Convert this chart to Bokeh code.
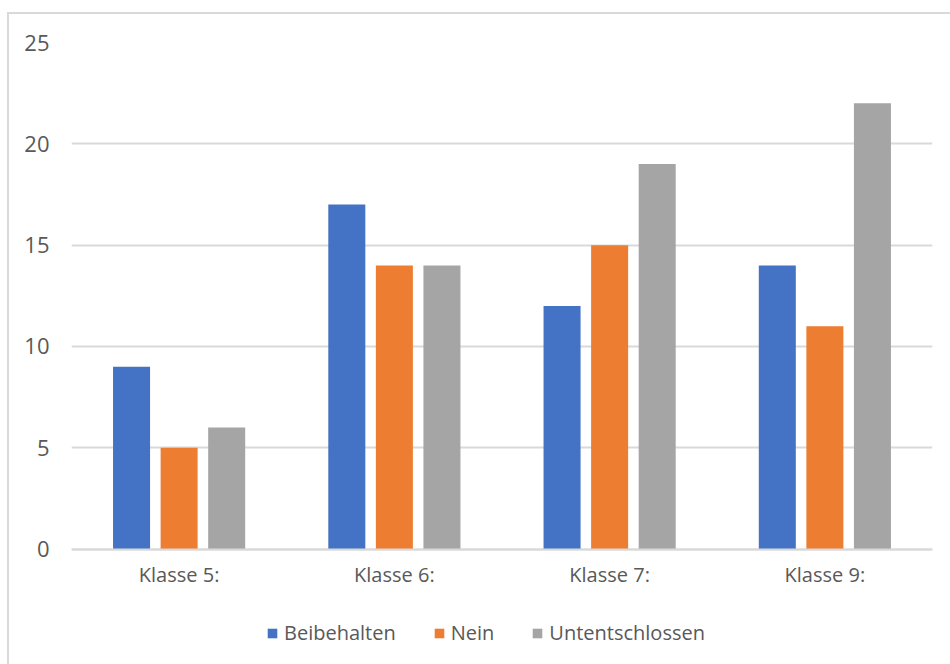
from bokeh.plotting import figure
from bokeh.models import (ColumnDataSource, FactorRange, Range1d, FixedTicker,
                          Legend, LegendItem)
from bokeh.transform import dodge
from bokeh.embed import file_html
from bokeh.resources import INLINE

# Survey answers per class
klassen = ["Klasse 5:", "Klasse 6:", "Klasse 7:", "Klasse 9:"]
beibehalten = [9, 17, 12, 14]
nein = [5, 14, 15, 11]
untentschlossen = [6, 14, 19, 22]
y_ticks = [0, 5, 10, 15, 20, 25]

series = [
    ("Beibehalten", "beibehalten", "#4472C4", -0.221),
    ("Nein", "nein", "#ED7D31", 0.0),
    ("Untentschlossen", "untentschlossen", "#A5A5A5", 0.221),
]

source = ColumnDataSource(data=dict(
    klasse=klassen,
    beibehalten=beibehalten,
    nein=nein,
    untentschlossen=untentschlossen,
))

FONT = "Open Sans"
TEXT = "#595959"
GRID = "#d9d9d9"

# The frame runs to the bottom edge so the legend sits inside it;
# the value axis starts below zero to leave room for labels and legend.
p = figure(
    x_range=FactorRange(*klassen, range_padding=0),
    y_range=Range1d(-5.792, 25),
    x_axis_location="above",
    width=941, height=650,
    min_border_left=62, min_border_right=20,
    min_border_top=28, min_border_bottom=0,
    output_backend="svg", toolbar_location=None,
)
p.margin = (12, 0, 0, 7)
p.styles = {"border-left": f"2px solid {GRID}", "border-top": f"2px solid {GRID}",
            "box-sizing": "content-box"}
p.outline_line_color = None
p.background_fill_color = "white"
p.border_fill_color = "white"

renderers = []
for name, col, color, off in series:
    r = p.vbar(x=dodge("klasse", off, range=p.x_range), top=col, width=0.172,
               source=source, fill_color=color, line_color=None)
    renderers.append((name, r))

# axes
p.xgrid.grid_line_color = None
p.ygrid.grid_line_color = GRID
p.ygrid.grid_line_width = 2
p.yaxis.ticker = FixedTicker(ticks=y_ticks)
p.ygrid.ticker = FixedTicker(ticks=y_ticks)

for ax in (p.xaxis[0], p.yaxis[0]):
    ax.major_tick_line_color = None
    ax.minor_tick_line_color = None
    ax.major_label_text_font = FONT
    ax.major_label_text_color = TEXT
    ax.major_label_text_font_size = "20px"
p.yaxis.axis_line_color = None
p.yaxis.major_label_text_font_size = "22px"
p.yaxis.major_label_standoff = 16

# category axis pinned to the zero line, labels hanging beneath it
p.xaxis.fixed_location = 0
p.xaxis.axis_line_color = GRID
p.xaxis.axis_line_width = 2
p.xaxis.major_label_standoff = -45

legend = Legend(
    items=[LegendItem(label=n, renderers=[r]) for n, r in renderers],
    orientation="horizontal",
    location=(195, 20),
    glyph_width=12, glyph_height=12,
    label_standoff=6, spacing=37,
    padding=0, margin=0,
    border_line_color=None, background_fill_alpha=0,
    label_text_font=FONT, label_text_color=TEXT,
    label_text_font_size="20px",
)
p.add_layout(legend, "center")

open("out.html", "w").write(file_html(p, INLINE))
